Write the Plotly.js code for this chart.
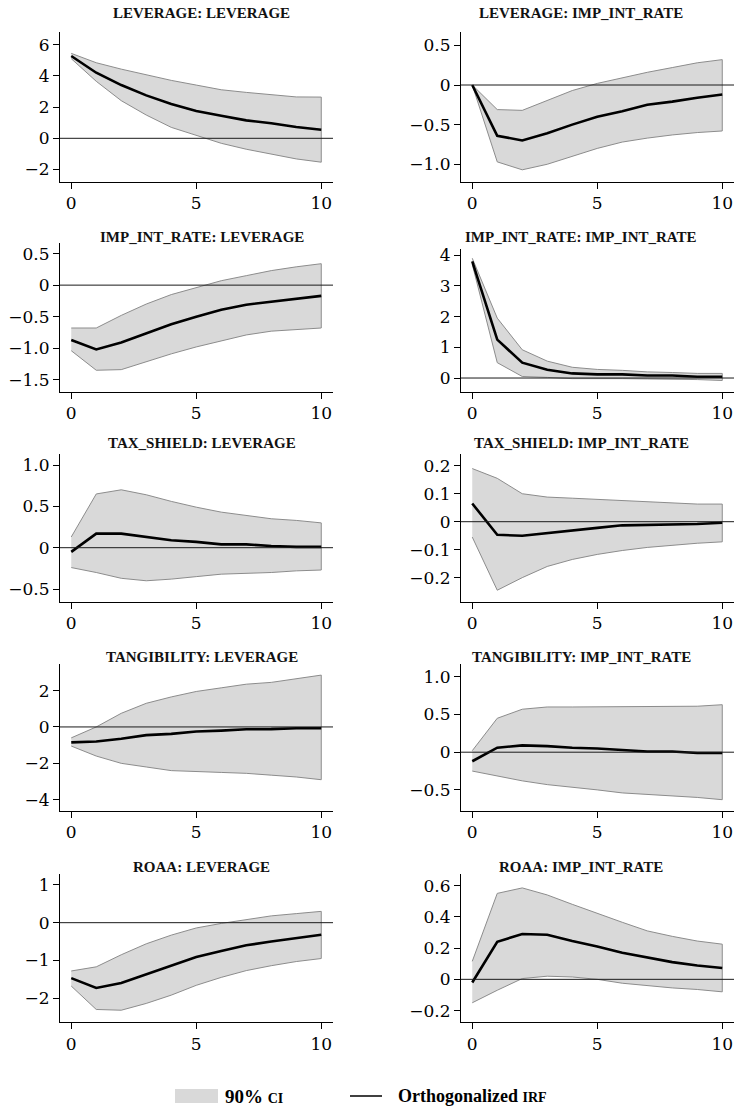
<!DOCTYPE html>
<html>
<head>
<meta charset="utf-8">
<script src="https://cdn.plot.ly/plotly-3.0.1.min.js"></script>
<style>
html,body{margin:0;padding:0;background:#fff;}
#chart{width:738px;height:1114px;}
</style>
</head>
<body>
<div id="chart"></div>
<script>
// ---------------- DATA ----------------
const horizon = [0, 1, 2, 3, 4, 5, 6, 7, 8, 9, 10];

const panelTitles = [
  "LEVERAGE: LEVERAGE", "LEVERAGE: IMP_INT_RATE",
  "IMP_INT_RATE: LEVERAGE", "IMP_INT_RATE: IMP_INT_RATE",
  "TAX_SHIELD: LEVERAGE", "TAX_SHIELD: IMP_INT_RATE",
  "TANGIBILITY: LEVERAGE", "TANGIBILITY: IMP_INT_RATE",
  "ROAA: LEVERAGE", "ROAA: IMP_INT_RATE"
];

const levLevIrf = [5.27, 4.2, 3.41, 2.75, 2.2, 1.75, 1.45, 1.15, 0.96, 0.72, 0.55];
const levLevLo  = [5.1, 3.65, 2.41, 1.49, 0.7, 0.21, -0.32, -0.7, -1.02, -1.32, -1.53];
const levLevHi  = [5.44, 4.84, 4.43, 4.05, 3.71, 3.41, 3.11, 2.94, 2.79, 2.65, 2.64];

const levImpIrf = [0, -0.64, -0.7, -0.61, -0.5, -0.4, -0.33, -0.25, -0.21, -0.16, -0.12];
const levImpLo  = [0, -0.97, -1.07, -1.0, -0.9, -0.8, -0.72, -0.67, -0.63, -0.6, -0.58];
const levImpHi  = [0, -0.31, -0.32, -0.2, -0.07, 0.02, 0.09, 0.16, 0.22, 0.28, 0.32];

const impLevIrf = [-0.87, -1.02, -0.91, -0.76, -0.62, -0.5, -0.39, -0.31, -0.26, -0.21, -0.17];
const impLevLo  = [-1.04, -1.35, -1.34, -1.21, -1.09, -0.98, -0.88, -0.79, -0.73, -0.7, -0.68];
const impLevHi  = [-0.68, -0.68, -0.48, -0.3, -0.15, -0.04, 0.07, 0.15, 0.23, 0.29, 0.34];

const impImpIrf = [3.8, 1.25, 0.5, 0.27, 0.15, 0.12, 0.12, 0.08, 0.08, 0.04, 0.04];
const impImpLo  = [3.7, 0.5, 0.05, 0.02, -0.02, -0.02, -0.02, -0.03, -0.03, -0.05, -0.08];
const impImpHi  = [3.9, 1.95, 0.92, 0.55, 0.35, 0.28, 0.25, 0.2, 0.18, 0.15, 0.15];

const taxLevIrf = [-0.05, 0.17, 0.17, 0.13, 0.09, 0.07, 0.04, 0.04, 0.02, 0.01, 0.01];
const taxLevLo  = [-0.24, -0.3, -0.37, -0.4, -0.38, -0.35, -0.32, -0.31, -0.3, -0.28, -0.27];
const taxLevHi  = [0.13, 0.65, 0.7, 0.64, 0.56, 0.49, 0.43, 0.39, 0.35, 0.33, 0.3];

const taxImpIrf = [0.065, -0.047, -0.05, -0.04, -0.03, -0.022, -0.013, -0.012, -0.009, -0.008, -0.004];
const taxImpLo  = [-0.055, -0.245, -0.2, -0.16, -0.135, -0.117, -0.103, -0.092, -0.084, -0.077, -0.072];
const taxImpHi  = [0.19, 0.155, 0.1, 0.088, 0.084, 0.08, 0.076, 0.072, 0.068, 0.063, 0.063];

const tanLevIrf = [-0.85, -0.8, -0.65, -0.45, -0.38, -0.25, -0.2, -0.13, -0.12, -0.07, -0.07];
const tanLevLo  = [-1.05, -1.6, -2.0, -2.2, -2.4, -2.45, -2.5, -2.55, -2.65, -2.75, -2.9];
const tanLevHi  = [-0.6, 0.0, 0.75, 1.3, 1.65, 1.95, 2.15, 2.35, 2.45, 2.65, 2.85];

const tanImpIrf = [-0.12, 0.06, 0.09, 0.08, 0.06, 0.05, 0.03, 0.01, 0.01, -0.01, -0.01];
const tanImpLo  = [-0.25, -0.32, -0.38, -0.43, -0.47, -0.5, -0.54, -0.56, -0.58, -0.6, -0.63];
const tanImpHi  = [0.02, 0.45, 0.57, 0.6, 0.6, 0.6, 0.6, 0.6, 0.61, 0.61, 0.63];

const roaaLevIrf = [-1.47, -1.73, -1.6, -1.37, -1.14, -0.91, -0.75, -0.6, -0.5, -0.41, -0.32];
const roaaLevLo  = [-1.68, -2.3, -2.32, -2.14, -1.92, -1.66, -1.45, -1.27, -1.14, -1.03, -0.95];
const roaaLevHi  = [-1.28, -1.17, -0.85, -0.56, -0.33, -0.14, -0.02, 0.09, 0.18, 0.24, 0.3];

const roaaImpIrf = [-0.02, 0.24, 0.29, 0.285, 0.245, 0.21, 0.17, 0.14, 0.11, 0.088, 0.072];
const roaaImpLo  = [-0.15, -0.07, 0.005, 0.02, 0.015, 0.0, -0.025, -0.04, -0.055, -0.065, -0.08];
const roaaImpHi  = [0.115, 0.55, 0.585, 0.54, 0.48, 0.42, 0.365, 0.31, 0.275, 0.245, 0.225];

const xTickVals = [0, 5, 10];
const xTickText = ["0", "5", "10"];

const yTickVals = [
  [-2, 0, 2, 4, 6], [-1.0, -0.5, 0, 0.5],
  [-1.5, -1.0, -0.5, 0, 0.5], [0, 1, 2, 3, 4],
  [-0.5, 0, 0.5, 1.0], [-0.2, -0.1, 0, 0.1, 0.2],
  [-4, -2, 0, 2], [-0.5, 0, 0.5, 1.0],
  [-2, -1, 0, 1], [-0.2, 0, 0.2, 0.4, 0.6]
];
const yTickText = [
  ["\u22122", "0", "2", "4", "6"], ["\u22121.0", "\u22120.5", "0", "0.5"],
  ["\u22121.5", "\u22121.0", "\u22120.5", "0", "0.5"], ["0", "1", "2", "3", "4"],
  ["\u22120.5", "0", "0.5", "1.0"], ["\u22120.2", "\u22120.1", "0", "0.1", "0.2"],
  ["\u22124", "\u22122", "0", "2"], ["\u22120.5", "0", "0.5", "1.0"],
  ["\u22122", "\u22121", "0", "1"], ["\u22120.2", "0", "0.2", "0.4", "0.6"]
];

const legendLabels = ["<b>90% <span style=\"font-size:14px\">CI</span></b>",
                      "<b>Orthogonalized <span style=\"font-size:14px\">IRF</span></b>"];

// ---------------- LAYOUT / STYLE ----------------
const series = [
  [levLevIrf, levLevLo, levLevHi], [levImpIrf, levImpLo, levImpHi],
  [impLevIrf, impLevLo, impLevHi], [impImpIrf, impImpLo, impImpHi],
  [taxLevIrf, taxLevLo, taxLevHi], [taxImpIrf, taxImpLo, taxImpHi],
  [tanLevIrf, tanLevLo, tanLevHi], [tanImpIrf, tanImpLo, tanImpHi],
  [roaaLevIrf, roaaLevLo, roaaLevHi], [roaaImpIrf, roaaImpLo, roaaImpHi]
];

const W = 738, H = 1114;
const colPx = [[60, 333], [461, 734]];
const rowPx = [[32.3, 181.7], [32.3, 181.7], [242.5, 391.7], [249, 391.7],
               [454, 601.7], [454, 601.7], [664, 811], [664, 811],
               [874, 1022.3], [874, 1022.3]];
const yRanges = [[-2.78, 6.79], [-1.22, 0.665], [-1.69, 0.676], [-0.445, 4.2],
                 [-0.653, 1.133], [-0.286, 0.242], [-4.62, 3.46], [-0.78, 1.17],
                 [-2.64, 1.29], [-0.275, 0.674]];
const xRange = [-0.45, 10.47];
const titleXPx = [201.7, 581];
const titleYPx = [13, 236.7, 442.7, 656.7, 867.3];

const serif = "Liberation Serif, Times New Roman, serif";
const tickFont = {family: "DejaVu Serif, serif", size: 17, color: "#000"};
const titleFont = {family: serif, size: 15, color: "#111"};
const bandFill = "#d9d9d9", bandLine = "#8c8c8c";

const traces = [];
const layout = {
  width: W, height: H,
  margin: {l: 0, r: 0, t: 0, b: 0},
  paper_bgcolor: "#fff", plot_bgcolor: "rgba(0,0,0,0)",
  showlegend: false,
  font: {family: serif},
  shapes: [], annotations: []
};

for (let i = 0; i < 10; i++) {
  const n = i + 1;
  const xa = n === 1 ? "x" : "x" + n;
  const ya = n === 1 ? "y" : "y" + n;
  const [irf, lo, hi] = series[i];
  const col = i % 2, row = Math.floor(i / 2);

  // CI band as closed polygon
  traces.push({
    x: horizon.concat(horizon.slice().reverse()),
    y: hi.concat(lo.slice().reverse()),
    xaxis: xa, yaxis: ya,
    type: "scatter", mode: "lines",
    fill: "toself", fillcolor: bandFill,
    line: {color: bandLine, width: 1},
    hoverinfo: "skip"
  });
  // IRF line
  traces.push({
    x: horizon, y: irf,
    xaxis: xa, yaxis: ya,
    type: "scatter", mode: "lines",
    line: {color: "#000", width: 2.6}
  });

  const xd = [colPx[col][0] / W, colPx[col][1] / W];
  const yd = [1 - rowPx[i][1] / H, 1 - rowPx[i][0] / H];
  const axCommon = {
    showline: true, linecolor: "#000", linewidth: 1,
    ticks: "outside", ticklen: 6, tickwidth: 1, tickcolor: "#000",
    showgrid: false, zeroline: false, tickfont: Object.assign({}, tickFont),
    fixedrange: true
  };
  layout["xaxis" + (n === 1 ? "" : n)] = Object.assign({}, axCommon, {
    domain: xd, range: xRange, anchor: ya,
    tickmode: "array", tickvals: xTickVals, ticktext: xTickText
  });
  layout["yaxis" + (n === 1 ? "" : n)] = Object.assign({}, axCommon, {
    domain: yd, range: yRanges[i], anchor: xa,
    tickmode: "array", tickvals: yTickVals[i], ticktext: yTickText[i]
  });

  // zero reference line
  layout.shapes.push({
    type: "line", xref: xa + " domain", yref: ya,
    x0: 0, x1: 1, y0: 0, y1: 0,
    line: {color: "#1a1a1a", width: 1}, layer: "above"
  });

  // panel title
  layout.annotations.push({
    xref: "paper", yref: "paper",
    x: titleXPx[col] / W, y: 1 - titleYPx[row] / H,
    xanchor: "center", yanchor: "middle",
    text: "<b>" + panelTitles[i] + "</b>", showarrow: false,
    font: titleFont
  });
}

// legend (drawn manually)
const legY = 1096;
layout.shapes.push({
  type: "rect", xref: "paper", yref: "paper",
  x0: 175 / W, x1: 218 / W, y0: 1 - 1103 / H, y1: 1 - 1089 / H,
  fillcolor: bandFill, line: {width: 0}
});
layout.shapes.push({
  type: "line", xref: "paper", yref: "paper",
  x0: 350 / W, x1: 382 / W, y0: 1 - legY / H, y1: 1 - legY / H,
  line: {color: "#000", width: 1.5}
});
layout.annotations.push({
  xref: "paper", yref: "paper", x: 223 / W, y: 1 - legY / H,
  xanchor: "left", yanchor: "middle", showarrow: false,
  text: legendLabels[0], font: {family: serif, size: 19, color: "#000"}
});
layout.annotations.push({
  xref: "paper", yref: "paper", x: 396 / W, y: 1 - legY / H,
  xanchor: "left", yanchor: "middle", showarrow: false,
  text: legendLabels[1], font: {family: serif, size: 18, color: "#000"}
});

Plotly.newPlot("chart", traces, layout, {staticPlot: true, displayModeBar: false});
</script>
</body>
</html>
